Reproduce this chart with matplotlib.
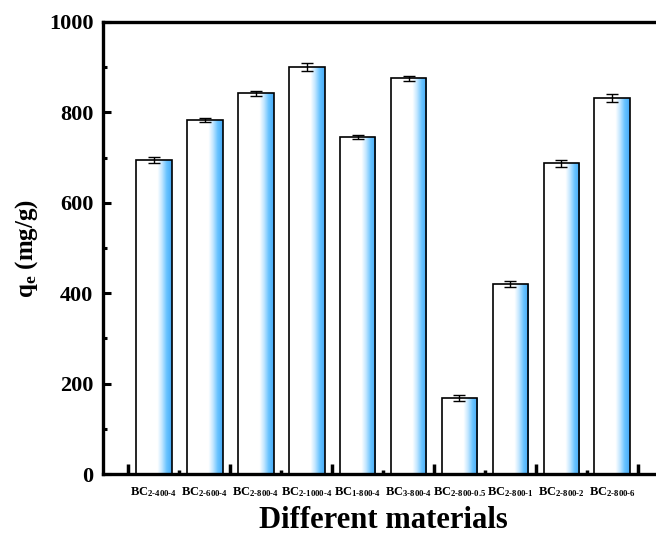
import numpy as np
import matplotlib.pyplot as plt
from matplotlib.colors import LinearSegmentedColormap
from matplotlib.ticker import FixedLocator, MultipleLocator

materials = ["2-400-4", "2-600-4", "2-800-4", "2-1000-4", "1-800-4",
             "3-800-4", "2-800-0.5", "2-800-1", "2-800-2", "2-800-6"]
qe = [695, 783, 842, 900, 745, 875, 168, 420, 687, 832]
qe_err = [6, 4, 5, 9, 4, 6, 7, 6, 8, 8]

plt.rcParams['font.family'] = ['Liberation Serif', 'DejaVu Serif']
plt.rcParams['font.weight'] = 'bold'
plt.rcParams['mathtext.fontset'] = 'custom'
plt.rcParams['mathtext.rm'] = 'Liberation Serif:bold'
plt.rcParams['mathtext.it'] = 'Liberation Serif:bold'
plt.rcParams['mathtext.bf'] = 'Liberation Serif:bold'

fig = plt.figure(figsize=(6.56, 5.35), dpi=100)
ax = fig.add_axes([0.157, 0.114, 0.854, 0.845])

# white -> blue gradient, left to right
grad_cmap = LinearSegmentedColormap.from_list(
    "wb", [(0.0, "#ffffff"), (0.6, "#ffffff"), (0.72, "#c5e8ff"),
           (0.86, "#66c2ff"), (1.0, "#45aaf7")])
grad = np.linspace(0, 1, 256).reshape(1, -1)

x = np.arange(1, len(qe) + 1)
width = 0.7
bars = ax.bar(x, qe, width=width, facecolor="none", edgecolor="black",
              linewidth=1.2, zorder=3)
for b in bars:
    x0, y0 = b.get_x(), b.get_y()
    im = ax.imshow(grad, cmap=grad_cmap, aspect="auto", zorder=2,
                   extent=[x0, x0 + b.get_width(), y0, y0 + b.get_height()])
    im.set_clip_path(b)

ax.errorbar(x, qe, yerr=qe_err, fmt="none", ecolor="black", elinewidth=1,
            capsize=4, capthick=1, zorder=4)

ax.set_xlim(0, 11)
ax.set_ylim(0, 1000)

# labels at bar centres, ticks between bars
ax.set_xticks(x)
ax.set_xticklabels([r"BC$_{\text{%s}}$" % m for m in materials], fontsize=9)
ax.tick_params(axis="x", which="major", length=0, pad=8)
ax.xaxis.set_minor_locator(FixedLocator(np.arange(0.5, 11, 2)))
ax.tick_params(axis="x", which="minor", direction="in", length=7, width=2.5)
sec = ax.secondary_xaxis("bottom")
sec.set_xticks(np.arange(1.5, 11, 2))
sec.set_xticklabels([])
sec.tick_params(direction="in", length=3, width=2.5)
sec.spines["bottom"].set_visible(False)

ax.yaxis.set_major_locator(MultipleLocator(200))
ax.yaxis.set_minor_locator(MultipleLocator(100))
ax.tick_params(axis="y", which="major", direction="in", length=6, width=2.2,
               labelsize=16, pad=7)
ax.tick_params(axis="y", which="minor", direction="in", length=3, width=2.2)

for s in ["left", "bottom", "top", "right"]:
    ax.spines[s].set_linewidth(2.4)

ax.set_xlabel("Different materials", fontsize=22, fontweight="bold", labelpad=5)
ax.set_ylabel(r"q$_{\mathrm{e}}$ (mg/g)", fontsize=18, fontweight="bold", labelpad=6)

fig.savefig("out.png", dpi=100)
